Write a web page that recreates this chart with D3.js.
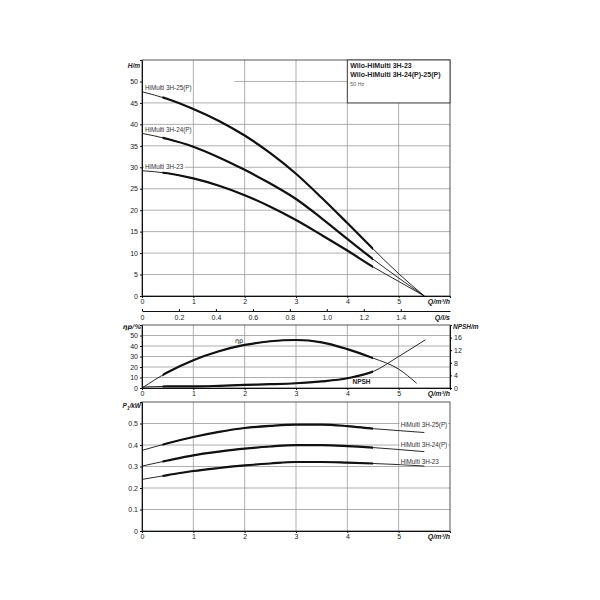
<!DOCTYPE html>
<html><head><meta charset="utf-8">
<script src="https://cdn.jsdelivr.net/npm/d3@7"></script>
<style>body{margin:0;background:#fff}svg{display:block;font-family:"Liberation Sans",Arial,sans-serif}</style>
</head><body><svg id="c" width="600" height="600"></svg>
<script>
// ---------- data ----------
const flowQ = [0, 0.5, 1, 1.5, 2, 2.5, 3, 3.5, 4, 4.5, 5, 5.5];
const head25P = [47.6, 45.9, 43.6, 40.8, 37.4, 33.3, 28.5, 22.9, 17.0, 11.0, 5.2, 0];
const head24P = [37.9, 36.6, 34.8, 32.3, 29.4, 26.2, 22.6, 18.1, 13.3, 8.6, 4.2, 0];
const head23  = [29.2, 28.6, 27.4, 25.7, 23.5, 20.8, 17.7, 14.2, 10.6, 6.8, 3.4, 0];
const headLabels = ["HiMulti 3H-25(P)", "HiMulti 3H-24(P)", "HiMulti 3H-23"];

const etaQ  = [0, 0.5, 1, 1.5, 2, 2.5, 3, 3.5, 4, 4.5, 5, 5.35];
const etaP  = [0, 15, 26.5, 35, 41, 44.5, 45.7, 43.5, 37, 28.5, 18, 4.5];
const npshQ = [0, 0.5, 1, 1.5, 2, 2.5, 3, 3.5, 4, 4.5, 5, 5.52];
const npsh  = [0.3, 0.5, 0.5, 0.7, 1.0, 1.2, 1.5, 2.1, 3.1, 5.2, 10.0, 15.3];

const power25P = [0.375, 0.408, 0.437, 0.461, 0.479, 0.489, 0.495, 0.495, 0.488, 0.476, 0.467, 0.458];
const power24P = [0.302, 0.328, 0.352, 0.369, 0.383, 0.393, 0.399, 0.399, 0.395, 0.388, 0.379, 0.369];
const power23  = [0.240, 0.260, 0.279, 0.293, 0.305, 0.314, 0.321, 0.321, 0.318, 0.314, 0.309, 0.302];

const qTicks = [0, 1, 2, 3, 4, 5];
const lsTicks = [0, 0.2, 0.4, 0.6, 0.8, 1.0, 1.2, 1.4];
const hTicks = [0, 5, 10, 15, 20, 25, 30, 35, 40, 45, 50];
const etaTicks = [0, 10, 20, 30, 40, 50];
const npshTicks = [0, 4, 8, 12, 16];
const pTicks = [0, 0.1, 0.2, 0.3, 0.4, 0.5];
const titleLines = ["Wilo-HiMulti 3H-23", "Wilo-HiMulti 3H-24(P)-25(P)"];
const freqText = "50 Hz";

// ---------- layout ----------
const svg = d3.select("#c");
const L = 142, R = 450;
const x = d3.scaleLinear().domain([0, 6]).range([L, R]);
const yH = d3.scaleLinear().domain([0, 55]).range([296, 60]);
const yE = d3.scaleLinear().domain([0, 60]).range([388, 325]);
const yN = d3.scaleLinear().domain([0, 20]).range([388, 325]);
const yP = d3.scaleLinear().domain([0, 0.6]).range([531, 402]);
const GRID = "#9a9a9a", FS = 7;

svg.append("defs").append("clipPath").attr("id", "thick")
  .append("rect").attr("x", x(0.4)).attr("y", 0).attr("width", x(4.5) - x(0.4)).attr("height", 600);

function panel(y, ticks, gridTicks) {
  const g = svg.append("g");
  g.selectAll(null).data([1, 2, 3, 4, 5]).join("line")
    .attr("x1", d => x(d)).attr("x2", d => x(d))
    .attr("y1", y.range()[1]).attr("y2", y.range()[0])
    .attr("stroke", GRID).attr("stroke-width", 0.8);
  g.selectAll(null).data(gridTicks).join("line")
    .attr("x1", L).attr("x2", R).attr("y1", d => y(d)).attr("y2", d => y(d))
    .attr("stroke", GRID).attr("stroke-width", 0.8);
  g.append("rect").attr("x", L).attr("y", y.range()[1]).attr("width", R - L)
    .attr("height", y.range()[0] - y.range()[1]).attr("fill", "none").attr("stroke", "#444").attr("stroke-width", 0.9);
  const ay = g.append("g").attr("transform", `translate(${L},0)`)
    .call(d3.axisLeft(y).tickValues(ticks).tickSize(2).tickPadding(2).tickFormat(d3.format("")));
  const ax = g.append("g").attr("transform", `translate(0,${y.range()[0]})`)
    .call(d3.axisBottom(x).tickValues(qTicks).tickSize(2).tickPadding(1).tickFormat(d3.format("d")));
  [ay, ax].forEach(a => {
    a.selectAll("text").attr("font-size", FS).attr("fill", "#222").attr("font-family", "Liberation Sans, Arial");
    a.select(".domain").attr("stroke", "#111");
    a.selectAll(".tick line").attr("stroke", "#111");
  });
  svg.append("text").attr("x", R).attr("y", y.range()[0] + 8).attr("text-anchor", "end")
    .attr("font-size", FS).attr("font-style", "italic").attr("font-weight", "bold").attr("fill", "#222")
    .text("Q/m³/h");
  return g;
}

function curve(yScale, qs, vals) {
  const line = d3.line().x((d, i) => x(qs[i])).y(d => yScale(d)).curve(d3.curveMonotoneX);
  svg.append("path").attr("d", line(vals)).attr("fill", "none").attr("stroke", "#111").attr("stroke-width", 0.9);
  svg.append("path").attr("d", line(vals)).attr("fill", "none").attr("stroke", "#111")
    .attr("stroke-width", 2.2).attr("clip-path", "url(#thick)");
}

function label(tx, ty, txt, bg) {
  const t = svg.append("text").attr("x", tx).attr("y", ty).attr("dy", "0.35em")
    .attr("font-size", 6.3).attr("fill", "#333").text(txt);
  if (bg) {
    const b = t.node().getBBox();
    svg.insert("rect", () => t.node()).attr("x", b.x - 1).attr("y", b.y + 1).attr("width", b.width + 2)
      .attr("height", b.height - 2).attr("fill", "#fff");
  }
}

// ---------- top: H ----------
panel(yH, hTicks, hTicks.filter(d => d > 0 && d < 50));
svg.append("line").attr("x1", x(1.8)).attr("x2", R).attr("y1", yH(50)).attr("y2", yH(50))
  .attr("stroke", GRID).attr("stroke-width", 0.8);
const xls = d3.scaleLinear().domain([0, 6 / 3.6]).range([L, R]);
const als = svg.append("g").attr("transform", `translate(0,311)`)
  .call(d3.axisBottom(xls).tickValues(lsTicks).tickSize(0).tickPadding(4).tickFormat(d3.format(".1f")));
als.selectAll("text").attr("font-size", FS).attr("fill", "#222");
als.select(".tick text").text("0");
als.select(".domain").attr("stroke", "#111");
als.selectAll(".tick").append("line").attr("y2", -2).attr("stroke", "#111");
svg.append("text").attr("x", R).attr("y", 319.5).attr("text-anchor", "end").attr("font-size", FS)
  .attr("font-style", "italic").attr("font-weight", "bold").attr("fill", "#222").text("Q/l/s");
svg.append("text").attr("x", 140).attr("y", 68).attr("text-anchor", "end").attr("font-size", 6.5)
  .attr("font-style", "italic").attr("font-weight", "bold").attr("fill", "#222").text("H/m");

[head25P, head24P, head23].forEach((h, i) => {
  curve(yH, flowQ, h);
  label(145, yH(h[0]) - 4, headLabels[i], true);
});

svg.append("rect").attr("x", x(4)).attr("y", yH(55)).attr("width", R - x(4)).attr("height", yH(45) - yH(55))
  .attr("fill", "#fff").attr("stroke", "#333").attr("stroke-width", 0.9);
titleLines.forEach((t, i) => svg.append("text").attr("x", x(4) + 3).attr("y", 68 + i * 9.3)
  .attr("font-size", 7).attr("font-weight", "bold").attr("fill", "#222").text(t));
svg.append("text").attr("x", x(4) + 3).attr("y", 85.7).attr("font-size", 5.3).attr("fill", "#555").text(freqText);

// ---------- middle: eta / NPSH ----------
panel(yE, etaTicks, etaTicks.filter(d => d > 0));
const an = svg.append("g").attr("transform", `translate(${R},0)`)
  .call(d3.axisRight(yN).tickValues(npshTicks).tickSize(2).tickPadding(2));
an.selectAll("text").attr("font-size", FS).attr("fill", "#222");
an.select(".domain").attr("stroke", "#111");
svg.append("text").attr("x", 141).attr("y", 328.5).attr("text-anchor", "end").attr("font-size", 6.5)
  .attr("font-family", "DejaVu Sans").attr("font-style", "italic").attr("font-weight", "bold")
  .attr("fill", "#222").text("ηp/%");
svg.append("text").attr("x", 453).attr("y", 328.5).attr("font-size", 6.5)
  .attr("font-style", "italic").attr("font-weight", "bold").attr("fill", "#222").text("NPSH/m");
curve(yE, etaQ, etaP);
curve(yN, npshQ, npsh);
svg.append("text").attr("x", 239).attr("y", 343).attr("text-anchor", "middle").attr("font-size", 6.5)
  .attr("font-family", "DejaVu Sans").attr("fill", "#111").text("ηp");
svg.append("text").attr("x", 361.5).attr("y", 384).attr("text-anchor", "middle").attr("font-size", 6.5)
  .attr("font-weight", "bold").attr("fill", "#222").text("NPSH");

// ---------- bottom: P1 ----------
panel(yP, pTicks, pTicks.filter(d => d > 0));
svg.append("text").attr("x", 141).attr("y", 408).attr("text-anchor", "end").attr("font-size", 6.5)
  .attr("font-style", "italic").attr("font-weight", "bold").attr("fill", "#222")
  .html('P<tspan font-size="4.5" dy="1.5">1</tspan><tspan dy="-1.5">/kW</tspan>');
[power25P, power24P, power23].forEach((p, i) => {
  curve(yP, flowQ, p);
  label(x(5) + 2, yP(d3.max(p)), headLabels[i], true);
});
</script></body></html>
